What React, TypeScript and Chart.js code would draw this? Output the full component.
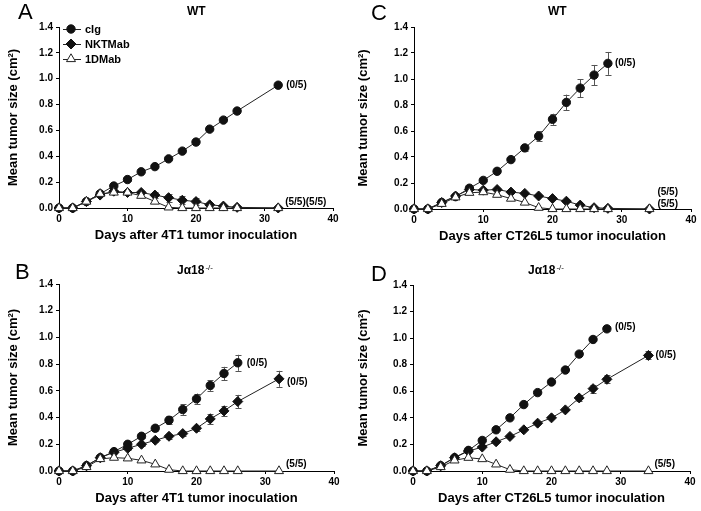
import React, { useEffect, useRef } from "react";
import { Chart, registerables } from "chart.js";

Chart.register(...registerables);

const FONT = '"Liberation Sans", Arial, Helvetica, sans-serif';

const seriesNames = ["cIg", "NKTMab", "1DMab"];
const xTickValues = [0, 10, 20, 30, 40];
const yTickValues = [0, 0.2, 0.4, 0.6, 0.8, 1.0, 1.2, 1.4];

// ---- Panel A: WT, 4T1 ----
const daysA = [0, 2, 4, 6, 8, 10, 12, 14, 16, 18, 20, 22, 24, 26, 32];
const cigA = [0, 0, 0.05, 0.11, 0.17, 0.22, 0.28, 0.32, 0.38, 0.44, 0.51, 0.61, 0.68, 0.75, 0.95];
const cigErrA = [0, 0, 0, 0, 0.01, 0.01, 0.01, 0.01, 0.01, 0.01, 0.01, 0.01, 0.01, 0.01, 0.01];
const nktA = [0, 0, 0.05, 0.1, 0.13, 0.12, 0.12, 0.1, 0.08, 0.06, 0.05, 0.025, 0.015, 0.005, 0];
const nktErrA = [0, 0, 0, 0, 0, 0, 0.01, 0.02, 0.03, 0.03, 0.03, 0.01, 0.01, 0, 0];
const d1A = [0, 0, 0.05, 0.11, 0.12, 0.12, 0.095, 0.05, 0.005, 0, 0, 0, 0, 0, 0];
const notesTextA = ["(0/5)", "(5/5)(5/5)"];
const notesAnchorA = [[32, 0.95], [32, 0]];

// ---- Panel C: WT, CT26L5 ----
const daysC1 = [0, 2, 4, 6, 8, 10, 12, 14, 16, 18, 20, 22, 24, 26, 28];
const daysC2 = [0, 2, 4, 6, 8, 10, 12, 14, 16, 18, 20, 22, 24, 26, 28, 34];
const cigC = [0, 0, 0.05, 0.095, 0.16, 0.22, 0.29, 0.38, 0.47, 0.56, 0.69, 0.82, 0.93, 1.03, 1.12];
const cigErrC = [0, 0, 0, 0, 0.01, 0.01, 0.01, 0.01, 0.02, 0.038, 0.043, 0.06, 0.07, 0.078, 0.088];
const nktC = [0, 0, 0.05, 0.1, 0.15, 0.145, 0.15, 0.13, 0.12, 0.1, 0.08, 0.06, 0.03, 0.01, 0.005, 0];
const d1C = [0, 0, 0.04, 0.09, 0.125, 0.13, 0.11, 0.08, 0.05, 0.01, 0, 0, 0, 0, 0, 0];
const notesTextC = ["(0/5)", "(5/5)", "(5/5)"];
const notesAnchorC = [[28, 1.12], [34, 0], [34, 0]];

// ---- Panel B: Ja18-/-, 4T1 ----
const daysB1 = [0, 2, 4, 6, 8, 10, 12, 14, 16, 18, 20, 22, 24, 26];
const daysB2 = [0, 2, 4, 6, 8, 10, 12, 14, 16, 18, 20, 22, 24, 26, 32];
const cigB = [0, 0, 0.04, 0.1, 0.145, 0.2, 0.26, 0.32, 0.38, 0.46, 0.54, 0.64, 0.73, 0.81];
const cigErrB = [0, 0, 0, 0, 0.01, 0.015, 0.015, 0.02, 0.03, 0.04, 0.04, 0.04, 0.05, 0.06];
const nktB = [0, 0, 0.04, 0.1, 0.14, 0.17, 0.2, 0.23, 0.26, 0.28, 0.32, 0.39, 0.45, 0.52, 0.69];
const nktErrB = [0, 0, 0, 0, 0, 0.01, 0.01, 0.01, 0.02, 0.02, 0.02, 0.04, 0.04, 0.05, 0.06];
const d1B = [0, 0, 0.03, 0.09, 0.1, 0.095, 0.08, 0.05, 0.01, 0, 0, 0, 0, 0, 0];
const notesTextB = ["(0/5)", "(0/5)", "(5/5)"];
const notesAnchorB = [[26, 0.81], [32, 0.69], [32, 0]];

// ---- Panel D: Ja18-/-, CT26L5 ----
const daysD1 = [0, 2, 4, 6, 8, 10, 12, 14, 16, 18, 20, 22, 24, 26, 28];
const daysD2 = [0, 2, 4, 6, 8, 10, 12, 14, 16, 18, 20, 22, 24, 26, 28, 34];
const cigD = [0, 0, 0.04, 0.1, 0.155, 0.23, 0.31, 0.4, 0.5, 0.59, 0.67, 0.76, 0.88, 0.99, 1.07];
const cigErrD = [0, 0, 0, 0, 0, 0, 0, 0, 0, 0, 0, 0, 0.01, 0.015, 0.015];
const nktD = [0, 0, 0.04, 0.1, 0.15, 0.18, 0.22, 0.26, 0.31, 0.36, 0.4, 0.46, 0.55, 0.62, 0.69, 0.87];
const nktErrD = [0, 0, 0, 0, 0, 0, 0, 0, 0, 0, 0, 0.01, 0.02, 0.03, 0.03, 0.03];
const d1D = [0, 0, 0.03, 0.08, 0.1, 0.09, 0.05, 0.01, 0, 0, 0, 0, 0, 0, 0, 0];
const notesTextD = ["(0/5)", "(0/5)", "(5/5)"];
const notesAnchorD = [[28, 1.07], [34, 0.87], [34, 0]];

const xTitle4T1 = "Days after 4T1 tumor inoculation";
const xTitleCT = "Days after CT26L5 tumor inoculation";
const yTitle = "Mean tumor size (cm\u00B2)";

type SeriesDef = { days: number[]; values: number[]; errors?: number[] };

interface PanelDef {
  letter: string;
  letterPos: [number, number];
  titleMain: string;
  titleSup?: string;
  titlePos: [number, number];
  xTitle: string;
  series: SeriesDef[];
  notesText: string[];
  notesAnchor: number[][];
  notesOffset: number[][];
  legend: boolean;
  box: { x: number; y: number; w: number; h: number };
  area: { left: number; top: number; right: number; bottom: number };
}

const panels: PanelDef[] = [
  {
    letter: "A",
    letterPos: [18, 1],
    titleMain: "WT",
    titlePos: [187, 11],
    xTitle: xTitle4T1,
    series: [
      { days: daysA, values: cigA, errors: cigErrA },
      { days: daysA, values: nktA, errors: nktErrA },
      { days: daysA, values: d1A },
    ],
    notesText: notesTextA,
    notesAnchor: notesAnchorA,
    notesOffset: [[8, 0], [7, -6]],
    legend: true,
    box: { x: 0, y: 0, w: 350, h: 255 },
    area: { left: 59, top: 27, right: 333, bottom: 208 },
  },
  {
    letter: "C",
    letterPos: [371, 2],
    titleMain: "WT",
    titlePos: [548, 11],
    xTitle: xTitleCT,
    series: [
      { days: daysC1, values: cigC, errors: cigErrC },
      { days: daysC2, values: nktC },
      { days: daysC2, values: d1C },
    ],
    notesText: notesTextC,
    notesAnchor: notesAnchorC,
    notesOffset: [[7, 0], [8, -17], [8, -5]],
    legend: false,
    box: { x: 350, y: 0, w: 351, h: 255 },
    area: { left: 414, top: 27, right: 691, bottom: 209 },
  },
  {
    letter: "B",
    letterPos: [15, 261],
    titleMain: "J\u03B118",
    titleSup: "-/-",
    titlePos: [177, 270],
    xTitle: xTitle4T1,
    series: [
      { days: daysB1, values: cigB, errors: cigErrB },
      { days: daysB2, values: nktB, errors: nktErrB },
      { days: daysB2, values: d1B },
    ],
    notesText: notesTextB,
    notesAnchor: notesAnchorB,
    notesOffset: [[9, 0], [8, 3], [7, -7]],
    legend: false,
    box: { x: 0, y: 255, w: 350, h: 256 },
    area: { left: 59, top: 284, right: 334, bottom: 471 },
  },
  {
    letter: "D",
    letterPos: [371, 263],
    titleMain: "J\u03B118",
    titleSup: "-/-",
    titlePos: [528, 270],
    xTitle: xTitleCT,
    series: [
      { days: daysD1, values: cigD, errors: cigErrD },
      { days: daysD2, values: nktD, errors: nktErrD },
      { days: daysD2, values: d1D },
    ],
    notesText: notesTextD,
    notesAnchor: notesAnchorD,
    notesOffset: [[8, -2], [7, 0], [6, -7]],
    legend: false,
    box: { x: 350, y: 255, w: 351, h: 256 },
    area: { left: 413, top: 285, right: 690, bottom: 471 },
  },
];

const markerStyles = [
  { pointStyle: "circle", radius: 4.2, fill: "#111111", stroke: "#111111", order: 2 },
  { pointStyle: "rectRot", radius: 5, fill: "#111111", stroke: "#111111", order: 1 },
  { pointStyle: "triangle", radius: 5.2, fill: "#ffffff", stroke: "#222222", order: 0 },
];

function drawMarker(ctx: CanvasRenderingContext2D, kind: string, x: number, y: number, r: number, fill: string, stroke: string) {
  ctx.save();
  ctx.beginPath();
  if (kind === "circle") {
    ctx.arc(x, y, r, 0, Math.PI * 2);
  } else if (kind === "rectRot") {
    ctx.moveTo(x, y - r);
    ctx.lineTo(x + r, y);
    ctx.lineTo(x, y + r);
    ctx.lineTo(x - r, y);
    ctx.closePath();
  } else {
    const a = (Math.PI * 2) / 3;
    ctx.moveTo(x, y - r);
    ctx.lineTo(x + Math.sin(a) * r, y - Math.cos(a) * r);
    ctx.lineTo(x + Math.sin(2 * a) * r, y - Math.cos(2 * a) * r);
    ctx.closePath();
  }
  ctx.fillStyle = fill;
  ctx.fill();
  ctx.strokeStyle = stroke;
  ctx.lineWidth = 1;
  ctx.stroke();
  ctx.restore();
}

const errorBarPlugin = {
  id: "errorBars",
  beforeDatasetsDraw(chart: any) {
    const ctx = chart.ctx as CanvasRenderingContext2D;
    const xs = chart.scales.x;
    const ys = chart.scales.y;
    ctx.save();
    ctx.strokeStyle = "#555555";
    ctx.lineWidth = 1;
    chart.data.datasets.forEach((ds: any) => {
      const errs: number[] | undefined = ds.errors;
      if (!errs) return;
      ds.data.forEach((p: any, i: number) => {
        const e = errs[i];
        if (!e) return;
        const px = Math.round(xs.getPixelForValue(p.x)) + 0.5;
        const yTop = ys.getPixelForValue(p.y + e);
        const yBot = ys.getPixelForValue(p.y - e);
        ctx.beginPath();
        ctx.moveTo(px, yTop);
        ctx.lineTo(px, yBot);
        ctx.moveTo(px - 3, Math.round(yTop) + 0.5);
        ctx.lineTo(px + 3, Math.round(yTop) + 0.5);
        ctx.moveTo(px - 3, Math.round(yBot) + 0.5);
        ctx.lineTo(px + 3, Math.round(yBot) + 0.5);
        ctx.stroke();
      });
    });
    ctx.restore();
  },
};

const notesPlugin = {
  id: "notes",
  afterDatasetsDraw(chart: any, _args: any, opts: any) {
    const ctx = chart.ctx as CanvasRenderingContext2D;
    const xs = chart.scales.x;
    const ys = chart.scales.y;
    ctx.save();
    ctx.font = `bold 10px ${FONT}`;
    ctx.fillStyle = "#000";
    ctx.textAlign = "left";
    ctx.textBaseline = "middle";
    (opts.texts || []).forEach((t: string, i: number) => {
      const [ax, ay] = opts.anchors[i];
      const [dx, dy] = opts.offsets[i];
      ctx.fillText(t, xs.getPixelForValue(ax) + dx, ys.getPixelForValue(ay) + dy);
    });
    ctx.restore();
  },
};

const legendPlugin = {
  id: "seriesLegend",
  afterDatasetsDraw(chart: any, _args: any, opts: any) {
    if (!opts.show) return;
    const ctx = chart.ctx as CanvasRenderingContext2D;
    const { left, top } = chart.chartArea;
    ctx.save();
    chart.data.datasets.forEach((ds: any, i: number) => {
      const m = markerStyles[i];
      const y = top + 2 + i * 15;
      ctx.beginPath();
      ctx.strokeStyle = "#222";
      ctx.lineWidth = 1;
      ctx.moveTo(left + 4, Math.round(y) + 0.5);
      ctx.lineTo(left + 22, Math.round(y) + 0.5);
      ctx.stroke();
      drawMarker(ctx, m.pointStyle, left + 12, y, m.radius, m.fill, m.stroke);
      ctx.font = `bold 11px ${FONT}`;
      ctx.fillStyle = "#000";
      ctx.textAlign = "left";
      ctx.textBaseline = "middle";
      ctx.fillText(ds.label, left + 26, y + 0.5);
    });
    ctx.restore();
  },
};

function Panel({ def }: { def: PanelDef }) {
  const ref = useRef<HTMLCanvasElement>(null);
  useEffect(() => {
    const canvas = ref.current;
    if (!canvas) return;
    const { box, area } = def;
    const padRight = box.x + box.w - area.right;
    const padTop = area.top - box.y;
    const yWidth = area.left - box.x;
    const xHeight = box.y + box.h - area.bottom;
    const titleFont = { family: FONT, size: 13, weight: "bold" as const };
    const half = 13 * 1.2 / 2;

    const datasets = def.series.map((s, i) => {
      const m = markerStyles[i];
      return {
        label: seriesNames[i],
        data: s.days.map((d, k) => ({ x: d, y: s.values[k] })),
        errors: s.errors,
        borderColor: "#222222",
        borderWidth: 1,
        pointStyle: m.pointStyle,
        pointRadius: m.radius,
        pointBackgroundColor: m.fill,
        pointBorderColor: m.stroke,
        pointBorderWidth: 1,
        showLine: true,
        fill: false,
        tension: 0,
        clip: false,
        order: m.order,
      };
    });

    const chart = new Chart(canvas, {
      type: "line",
      data: { datasets } as any,
      options: {
        responsive: false,
        animation: false,
        devicePixelRatio: 1,
        events: [],
        layout: { padding: { left: 0, right: padRight, top: padTop, bottom: 0 } },
        plugins: {
          legend: { display: false },
          tooltip: { enabled: false },
          title: { display: false },
          notes: { texts: def.notesText, anchors: def.notesAnchor, offsets: def.notesOffset },
          seriesLegend: { show: def.legend },
        } as any,
        scales: {
          x: {
            type: "linear",
            min: 0,
            max: 40,
            afterFit: (s: any) => {
              s.height = xHeight;
            },
            afterBuildTicks: (s: any) => {
              s.ticks = xTickValues.map((v) => ({ value: v }));
            },
            ticks: {
              font: { family: FONT, size: 10, weight: "bold" },
              color: "#000",
              padding: 2,
              maxRotation: 0,
              autoSkip: false,
            },
            grid: {
              display: true,
              drawOnChartArea: false,
              drawTicks: true,
              tickLength: 3,
              color: "#000",
              lineWidth: 1,
            },
            border: { display: true, color: "#000", width: 1 },
            title: {
              display: true,
              text: def.xTitle,
              font: titleFont,
              color: "#000",
              padding: { top: 0, bottom: xHeight - 27 - half },
            },
          },
          y: {
            type: "linear",
            min: 0,
            max: 1.4,
            afterFit: (s: any) => {
              s.width = yWidth;
            },
            afterBuildTicks: (s: any) => {
              s.ticks = yTickValues.map((v) => ({ value: v }));
            },
            ticks: {
              font: { family: FONT, size: 10, weight: "bold" },
              color: "#000",
              padding: 3,
              autoSkip: false,
              callback: (v: any) => Number(v).toFixed(1),
            },
            grid: {
              display: true,
              drawOnChartArea: false,
              drawTicks: true,
              tickLength: 3,
              color: "#000",
              lineWidth: 1,
            },
            border: { display: true, color: "#000", width: 1 },
            title: {
              display: true,
              text: yTitle,
              font: titleFont,
              color: "#000",
              padding: { top: 13 - half, bottom: 0 },
            },
          },
        },
      } as any,
      plugins: [errorBarPlugin, notesPlugin, legendPlugin],
    });
    return () => chart.destroy();
  }, [def]);

  const { box } = def;
  return (
    <>
      <canvas
        ref={ref}
        width={box.w}
        height={box.h}
        style={{ position: "absolute", left: box.x, top: box.y, width: box.w, height: box.h, display: "block" }}
      />
      <div
        style={{
          position: "absolute",
          left: def.letterPos[0],
          top: def.letterPos[1],
          fontFamily: FONT,
          fontSize: 22,
          lineHeight: 1,
          color: "#000",
        }}
      >
        {def.letter}
      </div>
      <div
        style={{
          position: "absolute",
          left: def.titlePos[0],
          top: def.titlePos[1],
          transform: "translateY(-50%)",
          fontFamily: FONT,
          fontSize: 12,
          fontWeight: "bold",
          lineHeight: 1,
          whiteSpace: "nowrap",
          color: "#000",
        }}
      >
        {def.titleMain}
        {def.titleSup ? (
          <sup style={{ fontSize: 8, fontWeight: "normal", verticalAlign: "4px", marginLeft: 1 }}>{def.titleSup}</sup>
        ) : null}
      </div>
    </>
  );
}

export default function App() {
  return (
    <div
      style={{
        position: "absolute",
        left: 0,
        top: 0,
        width: 701,
        height: 511,
        background: "#ffffff",
        overflow: "hidden",
      }}
    >
      {panels.map((p) => (
        <Panel key={p.letter} def={p} />
      ))}
    </div>
  );
}
